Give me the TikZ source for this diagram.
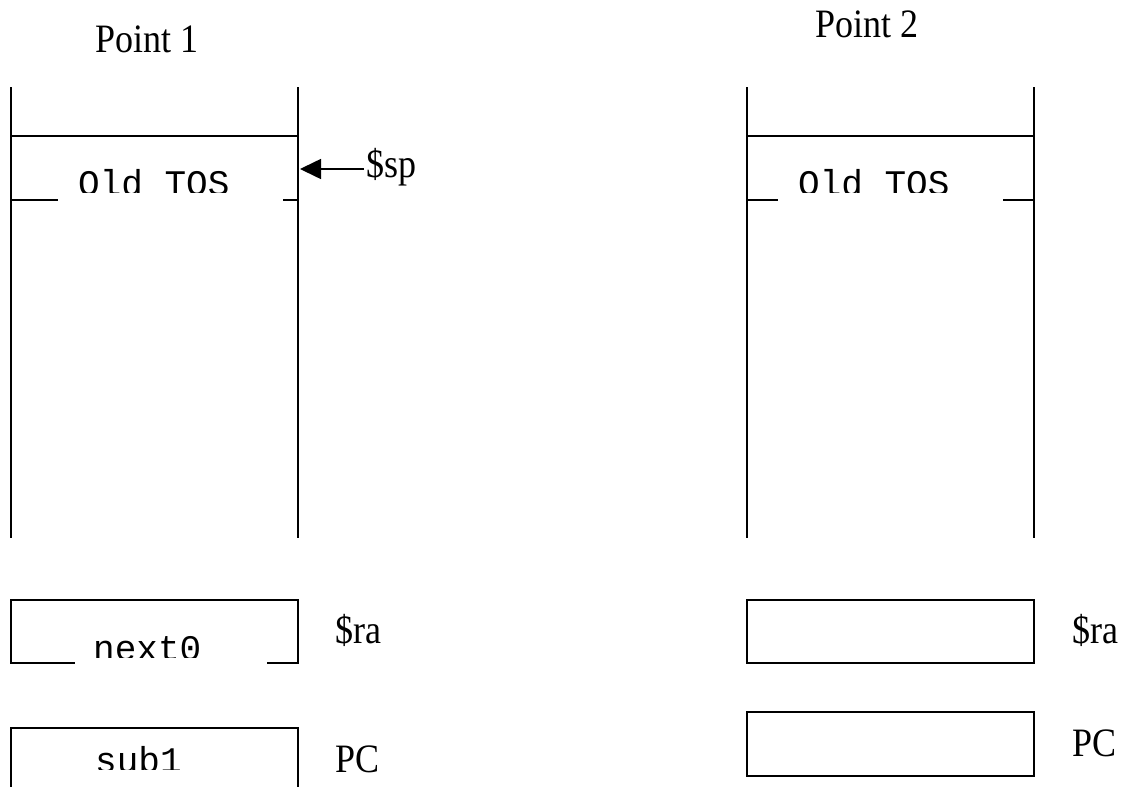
\documentclass[tikz,border=0pt]{standalone}
\usepackage{fontspec}
\setmainfont{Liberation Serif}
\setmonofont{Liberation Mono}
\usetikzlibrary{arrows.meta}
\newcommand\talltext[1]{\scalebox{1}[1.12]{#1}}
\tikzset{
  frame/.style={line width=1.6pt, line cap=rect},
  cover/.style={fill=white},
  mono/.style={font=\fontsize{36}{36}\selectfont\ttfamily, inner sep=0pt, anchor=base west},
  lbl/.style={font=\fontsize{36}{36}\selectfont\rmfamily, inner sep=0pt, anchor=base west},
  ptr/.style={line width=1.6pt, -{Triangle[length=21pt,width=20pt]}}
}
\begin{document}
\begin{tikzpicture}[x=1pt,y=-1pt]
\useasboundingbox (0,0) rectangle (1127,787);
% titles
\node[lbl] (p1) at (95,52) {\talltext{Point 1}};
\node[lbl] (p2) at (815,37) {\talltext{Point 2}};
% left stack
\draw[frame] (11,88) -- (11,537);
\draw[frame] (298,88) -- (298,537);
\draw[frame] (11,136) -- (298,136);
\draw[frame] (11,200) -- (298,200);
\fill[cover] (58,188) rectangle (283,203);
\begin{scope}
\clip (40,150) rectangle (290,192);
\node[mono] (tos1) at (78,195) {Old TOS};
\end{scope}
% $sp pointer
\node[lbl] (sp) at (366,177) {\talltext{\$sp}};
\coordinate (spstart) at (364,169);
\coordinate (sptip) at (300,169);
\draw[ptr] (spstart) -- (sptip);
% right stack
\draw[frame] (747,88) -- (747,537);
\draw[frame] (1034,88) -- (1034,537);
\draw[frame] (747,136) -- (1034,136);
\draw[frame] (747,200) -- (1034,200);
\fill[cover] (778,188) rectangle (1003,203);
\begin{scope}
\clip (760,150) rectangle (1020,192);
\node[mono] (tos2) at (798,195) {Old TOS};
\end{scope}
% left registers
\draw[frame] (11,600) rectangle (298,663);
\fill[cover] (75,650) rectangle (267,666);
\begin{scope}
\clip (40,620) rectangle (290,657);
\node[mono] (ra1v) at (93,660) {next0};
\end{scope}
\node[lbl] (ra1) at (335,643) {\talltext{\$ra}};
\draw[frame] (11,787) -- (11,728) -- (298,728) -- (298,787);
\begin{scope}
\clip (40,735) rectangle (290,769);
\node[mono] (pc1v) at (95,772) {sub1};
\end{scope}
\node[lbl] (pc1) at (335,772) {\talltext{PC}};
% right registers
\draw[frame] (747,600) rectangle (1034,663);
\node[lbl] (ra2) at (1072,643) {\talltext{\$ra}};
\draw[frame] (747,712) rectangle (1034,776);
\node[lbl] (pc2) at (1072,756) {\talltext{PC}};
\end{tikzpicture}
\end{document}
